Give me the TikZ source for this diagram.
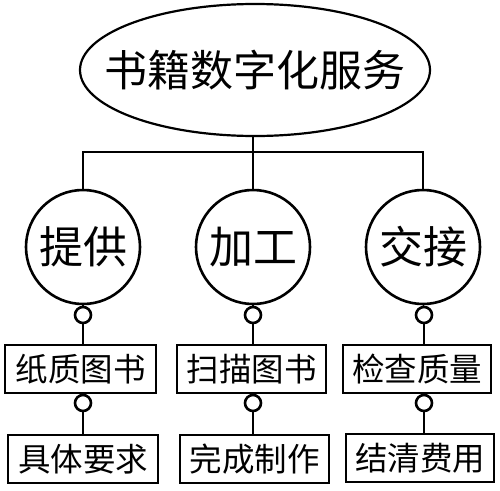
\documentclass[tikz,border=0pt]{standalone}
\usepackage{fontspec}
\newfontfamily\cjk{Noto Sans CJK SC}
\usetikzlibrary{shapes.geometric}
\begin{document}
\begin{tikzpicture}[x=1pt,y=-1pt,line width=2.2pt,
  top/.style={draw,ellipse,minimum width=350pt,minimum height=132pt,inner sep=0pt},
  toptext/.style={inner sep=0pt,font=\cjk\fontsize{43}{43}\selectfont},
  big/.style={draw,circle,minimum size=114pt,inner sep=0pt,line width=2.6pt,font=\cjk\fontsize{44}{44}\selectfont},
  box/.style={draw,rectangle,minimum height=48pt,inner sep=0pt,line width=2.6pt,font=\cjk\fontsize{32.5}{32.5}\selectfont},
  knob/.style={draw,circle,minimum size=16pt,inner sep=0pt,line width=2.6pt}]
\useasboundingbox (0,0) rectangle (500,490);
\node[top] (e) at (255,70) {};
\node[toptext] (et) at (e.center) {书籍数字化服务};
\coordinate (j) at (253,152);
\node[big] (c1) at (83,247) {提供};
\node[big] (c2) at (253,247) {加工};
\node[big] (c3) at (423,247) {交接};
\node[knob] (k1) at (83,315) {};
\node[knob] (k2) at (253,315) {};
\node[knob] (k3) at (424,315) {};
\node[box,minimum width=151pt] (b1) at (80.5,369) {纸质图书};
\node[box,minimum width=149pt] (b2) at (251.5,369) {扫描图书};
\node[box,minimum width=148pt] (b3) at (417,369) {检查质量};
\node[knob] (m1) at (83,403) {};
\node[knob] (m2) at (253,403) {};
\node[knob] (m3) at (424,403) {};
\node[box,minimum width=150pt] (d1) at (83,459) {具体要求};
\node[box,minimum width=149pt] (d2) at (254.5,459) {完成制作};
\node[box,minimum width=148pt] (d3) at (420,458) {结清费用};
\draw (e.south -| j) -- (j);
\draw (c1.north) -- (c1.north |- j) -- (c3.north |- j) -- (c3.north);
\draw (c2.north) -- (c2.north |- j);
\foreach \i in {1,2,3}{
  \draw (c\i.south) -- (k\i.north);
  \draw (k\i.south) -- (k\i.south |- b\i.north);
  \draw (b\i.south -| m\i) -- (m\i.north);
  \draw (m\i.south) -- (m\i.south |- d\i.north);
}
\end{tikzpicture}
\end{document}
